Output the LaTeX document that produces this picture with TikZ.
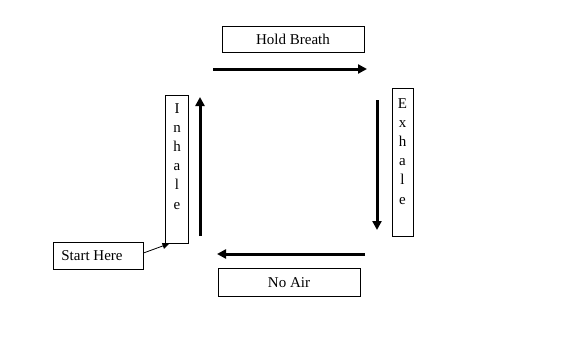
\documentclass[tikz,border=0pt]{standalone}
\usepackage{fontspec}
\setmainfont{Liberation Serif}
\usetikzlibrary{arrows.meta}
\begin{document}
\begin{tikzpicture}[x=1pt,y=-1pt,
  box/.style={draw,line width=1pt,inner sep=0pt},
  lbl/.style={inner sep=0pt,font=\fontsize{15}{19.2}\selectfont},
  vlbl/.style={inner sep=0pt,align=center,anchor=north,font=\fontsize{15}{19.2}\selectfont},
  bigarrow/.style={line width=3pt,-{Triangle[length=9pt,width=9pt]}},
  smallarrow/.style={line width=0.8pt,-{Triangle[length=7pt,width=6pt]}}]
\useasboundingbox (0,0) rectangle (582,343);
\fill[white] (0,0) rectangle (582,343);
% boxes
\node[box,minimum width=142pt,minimum height=26pt] (hold) at (293,39) {};
\node[lbl] (holdtxt) at (293,39.5) {Hold Breath};
\node[box,minimum width=142pt,minimum height=28pt] (noair) at (289,282) {};
\node[lbl] (noairtxt) at (289,282.5) {No Air};
\node[box,minimum width=23pt,minimum height=148pt] (inhale) at (176.5,169) {};
\node[vlbl] (inhaletxt) at (177,103) {I\\n\\h\\a\\l\\e};
\node[box,minimum width=21pt,minimum height=148pt] (exhale) at (402.5,162) {};
\node[vlbl] (exhaletxt) at (402.5,98) {E\\x\\h\\a\\l\\e};
\node[box,minimum width=90pt,minimum height=27pt] (start) at (98,255.5) {};
\node[lbl] (starttxt) at (92,255.5) {Start Here};
% big arrows
\coordinate (a1s) at (213,69);
\coordinate (a1e) at (367,69);
\coordinate (a2s) at (377,100);
\coordinate (a2e) at (377,230);
\coordinate (a3s) at (365,254);
\coordinate (a3e) at (217,254);
\coordinate (a4s) at (200,236);
\coordinate (a4e) at (200,97);
\draw[bigarrow] (a1s) -- (a1e);
\draw[bigarrow] (a2s) -- (a2e);
\draw[bigarrow] (a3s) -- (a3e);
\draw[bigarrow] (a4s) -- (a4e);
% start arrow
\draw[smallarrow] (start.east |- 0,253) -- ([xshift=5pt]inhale.south west);
\end{tikzpicture}
\end{document}
